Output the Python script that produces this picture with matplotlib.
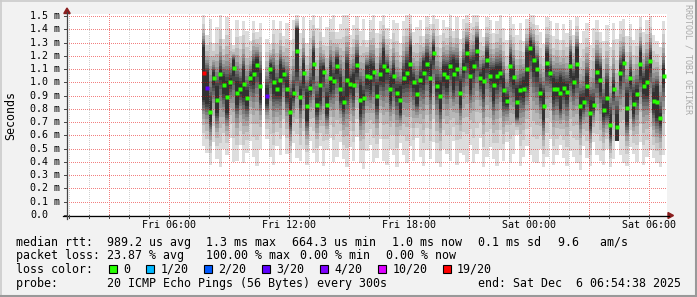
import numpy as np
import matplotlib
matplotlib.use("Agg")
import matplotlib.pyplot as plt
from matplotlib.lines import Line2D
from matplotlib.patches import Rectangle, Polygon

# ---- data: 10 minute columns, hours counted from Fri 00:00 ----
start_hour = 7 + 40 / 60
step_hour = 10 / 60
view_start = 0 + 54 / 60 + 38 / 3600      # Fri 00:54:38
view_end = view_start + 30                 # Sat 06:54:38

median = [1.07, 0.96, 0.78, 1.03, 0.87, 1.06, 0.98, 0.89, 1.00, 1.11,
          0.92, 0.95, 0.99, 0.88, 1.03, 1.06, 1.13, 0.97, np.nan, 0.90,
          1.10, 1.00, 0.95, 1.02, 1.06, 0.95, 0.78, 0.92, 1.24, 0.89,
          1.07, 0.82, 0.96, 1.14, 0.83, 0.98, 1.08, 0.83, 1.03, 1.01,
          1.12, 0.95, 0.85, 1.02, 0.99, 0.98, 1.13, 0.87, 0.88, 1.05,
          1.04, 1.08, 0.90, 1.06, 1.12, 1.09, 0.95, 1.05, 0.92, 0.87,
          1.03, 1.07, 1.14, 1.00, 0.91, 1.02, 1.07, 1.14, 1.03, 1.22,
          0.97, 0.90, 1.06, 1.04, 1.12, 1.06, 1.10, 0.92, 1.11, 1.22,
          1.05, 1.12, 1.24, 1.03, 1.01, 1.17, 1.05, 0.98, 1.05, 1.07,
          0.94, 0.86, 1.12, 1.04, 0.85, 0.94, 0.95, 1.10, 1.26, 1.17,
          1.10, 0.92, 0.82, 1.15, 1.07, 0.95, 0.95, 0.92, 0.96, 0.93,
          1.12, 1.00, 1.14, 0.82, 0.85, 0.97, 0.77, 0.83, 1.08, 1.02,
          0.79, 0.88, 0.68, 0.95, 0.66, 1.07, 1.15, 0.81, 1.03, 0.84,
          0.91, 1.14, 0.97, 1.00, 1.16, 0.86, 0.85, 0.73, 1.05]

# highest and lowest ping of each column
smoke_hi = [1.51, 1.36, 1.48, 1.30, 1.42, 1.51, 1.33, 1.49, 1.40, 1.28,
            1.47, 1.35, 1.46, 1.39, 1.31, 1.46, 1.38, 1.45, np.nan, 1.33,
            1.29, 1.47, 1.40, 1.46, 1.35, 1.45, 1.32, 1.47, 1.51, 1.37,
            1.49, 1.30, 1.47, 1.51, 1.41, 1.49, 1.34, 1.42, 1.48, 1.51,
            1.38, 1.44, 1.51, 1.51, 1.36, 1.43, 1.50, 1.39, 1.48, 1.32,
            1.47, 1.51, 1.37, 1.46, 1.51, 1.41, 1.33, 1.47, 1.45, 1.30,
            1.46, 1.51, 1.51, 1.38, 1.42, 1.47, 1.35, 1.50, 1.44, 1.51,
            1.48, 1.36, 1.47, 1.42, 1.51, 1.39, 1.49, 1.33, 1.48, 1.51,
            1.45, 1.51, 1.51, 1.40, 1.34, 1.49, 1.47, 1.37, 1.46, 1.51,
            1.41, 1.32, 1.49, 1.44, 1.36, 1.45, 1.31, 1.48, 1.51, 1.51,
            1.43, 1.38, 1.29, 1.49, 1.46, 1.35, 1.45, 1.32, 1.44, 1.37,
            1.47, 1.36, 1.49, 1.30, 1.39, 1.45, 1.28, 1.41, 1.47, 1.38,
            1.31, 1.43, 1.27, 1.45, 1.33, 1.46, 1.48, 1.35, 1.44, 1.32,
            1.40, 1.49, 1.38, 1.47, 1.50, 1.36, 1.31, 1.27, 1.46]

smoke_lo = [0.52, 0.47, 0.38, 0.55, 0.42, 0.36, 0.50, 0.45, 0.58, 0.40,
            0.41, 0.53, 0.39, 0.47, 0.56, 0.44, 0.37, 0.50, np.nan, 0.57,
            0.44, 0.38, 0.52, 0.45, 0.60, 0.46, 0.39, 0.54, 0.43, 0.41,
            0.50, 0.38, 0.56, 0.47, 0.40, 0.52, 0.37, 0.49, 0.58, 0.40,
            0.44, 0.55, 0.42, 0.36, 0.51, 0.41, 0.59, 0.39, 0.35, 0.48,
            0.53, 0.40, 0.43, 0.57, 0.41, 0.38, 0.50, 0.45, 0.36, 0.54,
            0.45, 0.39, 0.52, 0.41, 0.58, 0.44, 0.37, 0.49, 0.42, 0.55,
            0.39, 0.36, 0.50, 0.46, 0.41, 0.56, 0.38, 0.47, 0.45, 0.40,
            0.53, 0.39, 0.46, 0.58, 0.36, 0.44, 0.51, 0.42, 0.37, 0.49,
            0.41, 0.55, 0.39, 0.46, 0.60, 0.37, 0.44, 0.52, 0.45, 0.40,
            0.39, 0.50, 0.36, 0.44, 0.57, 0.38, 0.45, 0.53, 0.43, 0.37,
            0.48, 0.44, 0.39, 0.34, 0.52, 0.43, 0.37, 0.55, 0.45, 0.41,
            0.38, 0.50, 0.36, 0.42, 0.56, 0.45, 0.39, 0.37, 0.51, 0.46,
            0.40, 0.55, 0.38, 0.44, 0.49, 0.43, 0.39, 0.36, 0.45]

# half height of the dark core around the median
smoke_core = [0.20, 0.12, 0.08, 0.05, 0.10, 0.04, 0.07, 0.12, 0.03, 0.06,
              0.09, 0.04, 0.11, 0.06, 0.03, 0.08, 0.05, 0.10, np.nan, 0.06,
              0.04, 0.09, 0.05, 0.12, 0.03, 0.07, 0.10, 0.04, 0.16, 0.06,
              0.08, 0.11, 0.03, 0.09, 0.05, 0.12, 0.04, 0.07, 0.10, 0.03,
              0.06, 0.09, 0.05, 0.13, 0.04, 0.08, 0.06, 0.11, 0.03, 0.07,
              0.10, 0.04, 0.08, 0.05, 0.12, 0.03, 0.09, 0.06, 0.04, 0.10,
              0.05, 0.08, 0.13, 0.04, 0.07, 0.03, 0.09, 0.06, 0.11, 0.05,
              0.04, 0.10, 0.06, 0.08, 0.03, 0.12, 0.05, 0.09, 0.04, 0.07,
              0.11, 0.05, 0.08, 0.03, 0.10, 0.06, 0.04, 0.12, 0.07, 0.05,
              0.09, 0.03, 0.08, 0.06, 0.11, 0.04, 0.07, 0.13, 0.05, 0.09,
              0.06, 0.04, 0.10, 0.07, 0.03, 0.08, 0.05, 0.12, 0.04, 0.06,
              0.09, 0.05, 0.11, 0.07, 0.04, 0.08, 0.10, 0.03, 0.06, 0.09,
              0.05, 0.12, 0.08, 0.04, 0.10, 0.06, 0.03, 0.11, 0.05, 0.08,
              0.04, 0.09, 0.06, 0.10, 0.05, 0.07, 0.12, 0.04, 0.06]

# columns with packet loss (index -> lost pings out of 20)
loss_idx = [0, 1, 19]
loss_val = [19, 3, 3]

loss_keys = [0, 1, 2, 3, 4, 10, 19]
loss_names = ["0", "1/20", "2/20", "3/20", "4/20", "10/20", "19/20"]
loss_cols = ["#26ff00", "#00b8ff", "#0059ff", "#5e00ff", "#7e00ff", "#dd00ff", "#ff0000"]

y_ticks = [0.1 * i for i in range(16)]
y_labels = ["0.0"] + ["%.1f m" % v for v in y_ticks[1:]]
x_label_hours = [6, 12, 18, 24, 30]
x_labels = ["Fri 06:00", "Fri 12:00", "Fri 18:00", "Sat 00:00", "Sat 06:00"]

# ---- layout (pixels) ----
W, H = 697, 297
Y0, PXMS, TOP = 215.0, 132.6, 14.0
LEFT, RIGHT = 67.0, 667.0
MONO = "DejaVu Sans Mono"
plt.rcParams["font.family"] = MONO


def fx(x):
    return x / W


def fy(y):
    return 1 - y / H


def xpx(h):
    return LEFT + (h - view_start) * (RIGHT - LEFT) / (view_end - view_start)


fig = plt.figure(figsize=(W / 100, H / 100), dpi=100, facecolor="#f2f2f2")
ax = fig.add_axes([fx(LEFT), fy(Y0), (RIGHT - LEFT) / W, (Y0 - TOP) / H])
ymax = (Y0 - TOP) / PXMS
ax.set_xlim(view_start, view_end)
ax.set_ylim(0, ymax)
ax.axis("off")
ax.add_patch(Rectangle((0, 0), 1, 1, transform=ax.transAxes, color="white", zorder=0))

med = np.array(median, dtype=float)
hi = np.array(smoke_hi, dtype=float)
lo = np.array(smoke_lo, dtype=float)
core = np.array(smoke_core, dtype=float)
t = start_hour + step_hour * np.arange(len(med))

# smoke: nested bands, outer light -> inner dark (smokeping shading)
shape = [1.0, 0.72, 0.55, 0.42, 0.32, 0.24, 0.17, 0.11, 0.06, 0.0]
half = len(shape)
for i, g in enumerate(shape):
    grey = int(190 / half * (half - (i + 1))) + 50
    top = med + core + (hi - med - core) * g
    bot = med - core - (med - lo - core) * g
    ax.bar(t, top - bot, bottom=bot, width=step_hour, align="edge",
           color="#%02x%02x%02x" % (grey, grey, grey), linewidth=0,
           antialiased=False, zorder=1)

# dotted grid on top of the smoke, drawn pixel by pixel as an overlay image
gw, gh = int(RIGHT - LEFT), int(Y0 - TOP)
grid = np.zeros((gh, gw, 4))
major = (0.9, 0.0, 0.0, 0.5)
minor = (0.55, 0.55, 0.55, 0.4)
for h in range(1, 31):
    c = int(round(xpx(h) - LEFT))
    if 0 <= c < gw:
        grid[::2, c] = major if h % 3 == 0 else minor
for v in y_ticks[1:]:
    r = int(round((ymax - v) * PXMS))
    if 0 <= r < gh:
        grid[r, ::2] = major
ax.imshow(grid, extent=(view_start, view_end, 0, ymax), aspect="auto",
          interpolation="nearest", zorder=2)

# median dots coloured by loss
loss = np.zeros(len(med), dtype=int)
loss[loss_idx] = loss_val
for key, col in zip(loss_keys, loss_cols):
    m = loss == key
    ax.plot(t[m] + step_hour / 2, med[m], ls="none", marker="s", ms=2.5,
            mec="none", mfc=col, zorder=3)

# ---- axes, ticks, arrows ----
fig.add_artist(Line2D([fx(63), fx(669)], [fy(Y0 + 0.5), fy(Y0 + 0.5)], color="#000000", lw=0.9))
fig.add_artist(Line2D([fx(LEFT), fx(LEFT)], [fy(219), fy(12)], color="#444444", lw=0.9))
for h in range(1, 31):
    x = xpx(h)
    fig.add_artist(Line2D([fx(x), fx(x)], [fy(Y0), fy(Y0 + 3)], color="#444444", lw=0.7))
for v in y_ticks:
    y = Y0 - v * PXMS
    fig.add_artist(Line2D([fx(64), fx(LEFT)], [fy(y), fy(y)], color="#444444", lw=0.7))
arrow = "#8b1e1e"
fig.add_artist(Polygon([(fx(668), fy(212.5)), (fx(668), fy(218.5)), (fx(673.5), fy(215.5))],
                       closed=True, color=arrow, transform=fig.transFigure))
fig.add_artist(Polygon([(fx(63.8), fy(13.5)), (fx(70.2), fy(13.5)), (fx(67), fy(8))],
                       closed=True, color=arrow, transform=fig.transFigure))

# ---- labels ----
for v, lab in zip(y_ticks, y_labels):
    fig.text(fx(30), fy(Y0 - v * PXMS), lab, ha="left", va="center", size=7.2)
for h, lab in zip(x_label_hours, x_labels):
    fig.text(fx(xpx(h)), fy(227.5), lab, ha="center", va="baseline", size=7.2)
fig.text(fx(11), fy(115), "Seconds", rotation=90, ha="center", va="center", size=8.4)
fig.text(fx(688), fy(4), "RRDTOOL / TOBI OETIKER", rotation=270, ha="center",
         va="top", size=6, color="#aaaaaa")

# ---- legend ----
FS = 8.4
base = [245.6, 259.3, 273.0, 286.7]
line1 = [(16, "median rtt:  989.2 us avg"), (206, "1.3 ms max"), (292.5, "664.3 us min"),
         (392, "1.0 ms now"), (477.5, "0.1 ms sd"), (557.5, "9.6   am/s")]
line2 = [(16, "packet loss: 23.87 % avg"), (206, "100.00 % max"), (300, "0.00 % min"),
         (386, "0.00 % now")]
line4 = [(16, "probe:       20 ICMP Echo Pings (56 Bytes) every 300s"),
         (478, "end: Sat Dec  6 06:54:38 2025")]
for row, items in ((0, line1), (1, line2), (3, line4)):
    for x, s in items:
        fig.text(fx(x), fy(base[row]), s, ha="left", va="baseline", size=FS)
fig.text(fx(16), fy(base[2]), "loss color:", ha="left", va="baseline", size=FS)
box_x = [109, 146, 203.5, 261.5, 319.5, 378, 442.5]
for bx, name, col in zip(box_x, loss_names, loss_cols):
    fig.add_artist(Rectangle((fx(bx), fy(273)), 8 / W, 8 / H, transform=fig.transFigure,
                             facecolor=col, edgecolor="black", lw=0.8))
    fig.text(fx(bx + 14.5), fy(base[2]), name, ha="left", va="baseline", size=FS)

# ---- frame shading ----
fig.add_artist(Line2D([0, 1], [fy(0.5), fy(0.5)], color="#cbcbcb", lw=1.2))
fig.add_artist(Line2D([fx(0.5), fx(0.5)], [0, 1], color="#cbcbcb", lw=1.2))
fig.add_artist(Line2D([0, 1], [fy(296), fy(296)], color="#999999", lw=1.5))
fig.add_artist(Line2D([fx(696), fx(696)], [0, 1], color="#999999", lw=1.5))

fig.savefig("out.png", dpi=100, facecolor=fig.get_facecolor())
